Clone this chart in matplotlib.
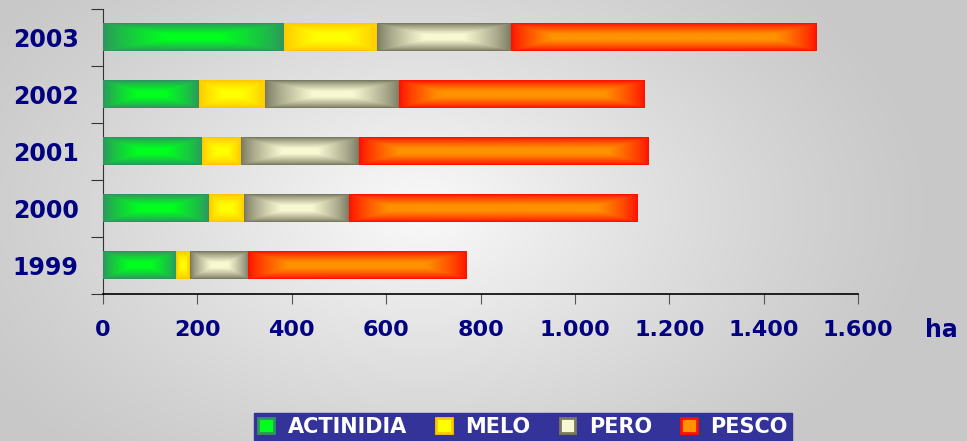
import numpy as np
import matplotlib
matplotlib.use("Agg")
import matplotlib.pyplot as plt
from matplotlib.patches import Patch
from matplotlib.colors import to_rgb

# data (ha)
years = ['1999', '2000', '2001', '2002', '2003']
actinidia = [155, 224, 210, 203, 383]
melo = [29, 75, 82, 140, 198]
pero = [123, 222, 250, 284, 283]
pesco = [463, 612, 613, 521, 647]
series_names = ['ACTINIDIA', 'MELO', 'PERO', 'PESCO']
xticks = [0, 200, 400, 600, 800, 1000, 1200, 1400, 1600]
xtick_labels = ['0', '200', '400', '600', '800', '1.000', '1.200', '1.400', '1.600']

# (edge colour, centre colour) for the 3D-ish box gradient
grad = {
    'ACTINIDIA': ('#2e9560', '#00ff1e'),
    'MELO': ('#ffc800', '#ffff00'),
    'PERO': ('#7a7a62', '#f8f8d2'),
    'PESCO': ('#ff1000', '#ff9200'),
}
NAVY = '#000080'
plt.rcParams['font.family'] = ['DejaVu Sans']

fig = plt.figure(figsize=(9.67, 4.41), dpi=100)

# radial grey background over the whole figure
bg = fig.add_axes([0, 0, 1, 1], zorder=-10)
W, H = 967, 441
xx, yy = np.meshgrid(np.arange(W), np.arange(H))
r = np.sqrt(((xx - 420) / 520.0) ** 2 + ((yy - 210) / 330.0) ** 2)
v = 0.785 + 0.195 * np.clip(1 - r, 0, 1) ** 1.2
bg.imshow(np.dstack([v, v, v]), aspect='auto', extent=[0, 1, 0, 1])
bg.axis('off')

ax = fig.add_axes([103 / W, 1 - 294 / H, (858 - 103) / W, (294 - 9) / H])
ax.patch.set_alpha(0)

ypos = np.arange(len(years))
left = np.zeros(len(years))
bars = []
for name, vals in zip(series_names, [actinidia, melo, pero, pesco]):
    b = ax.barh(ypos, vals, left=left, height=0.48, color=grad[name][1], linewidth=0)
    bars.append((name, b))
    left = left + np.array(vals)


def box_gradient(w_px, h_px, edge, centre, kx=0.35, ky=0.4):
    nx, ny = max(int(w_px), 2), max(int(h_px), 2)
    x = np.linspace(0, 1, nx)
    y = np.linspace(0, 1, ny)
    X, Y = np.meshgrid(x, y)
    sx = np.clip(np.minimum(X, 1 - X) / kx, 0, 1)
    sy = np.clip(np.minimum(Y, 1 - Y) / ky, 0, 1)
    s = np.minimum(sx, sy) ** 0.8
    e = np.array(to_rgb(edge))
    c = np.array(to_rgb(centre))
    return e + (c - e) * s[..., None]


px_per_unit = (858 - 103) / 1600.0
for name, b in bars:
    edge, centre = grad[name]
    for p in b.patches:
        x0, y0, w, h = p.get_x(), p.get_y(), p.get_width(), p.get_height()
        kx = min(0.35, 40 / max(w * px_per_unit, 1)) if name == 'PESCO' else 0.35
        img = box_gradient(w * px_per_unit, 27, edge, centre, kx=kx)
        ax.imshow(img, extent=[x0, x0 + w, y0, y0 + h], aspect='auto',
                  interpolation='bilinear', zorder=3)

ax.set_xlim(0, 1600)
ax.set_ylim(-0.5, len(years) - 0.5)

ax.spines['top'].set_visible(False)
ax.spines['right'].set_visible(False)
ax.spines['left'].set_color('#333333')
ax.spines['bottom'].set_color('black')
ax.spines['bottom'].set_linewidth(1.2)

ax.set_xticks(xticks)
ax.set_xticklabels(xtick_labels, fontsize=16, fontweight='bold', color=NAVY)
ax.tick_params(axis='x', direction='out', length=7, color='#555555', pad=12)

ax.set_yticks(np.arange(len(years) + 1) - 0.5)
ax.set_yticklabels([])
ax.set_yticks(ypos, minor=True)
ax.set_yticklabels(years, minor=True, fontsize=17, fontweight='bold', color=NAVY)
ax.tick_params(axis='y', which='major', direction='out', length=9, color='#333333')
ax.tick_params(axis='y', which='minor', length=0, pad=17.5)

fig.text(925 / W, 1 - 337 / H, 'ha', fontsize=17, fontweight='bold', color=NAVY,
         ha='left', va='baseline')

handles = [Patch(facecolor=grad[n][1], edgecolor=grad[n][0], linewidth=2) for n in series_names]
leg = fig.legend(handles, series_names, loc='lower center',
                 bbox_to_anchor=(523 / W, 0),
                 ncol=4, frameon=True, fancybox=False,
                 facecolor='#333399', edgecolor='#333399', framealpha=1,
                 borderaxespad=0, handlelength=0.75, handleheight=0.75,
                 handletextpad=0.65, columnspacing=1.4, borderpad=0.2,
                 prop={'size': 15, 'weight': 'bold'})
for t in leg.get_texts():
    t.set_color('white')

fig.savefig('out.png', dpi=100)
